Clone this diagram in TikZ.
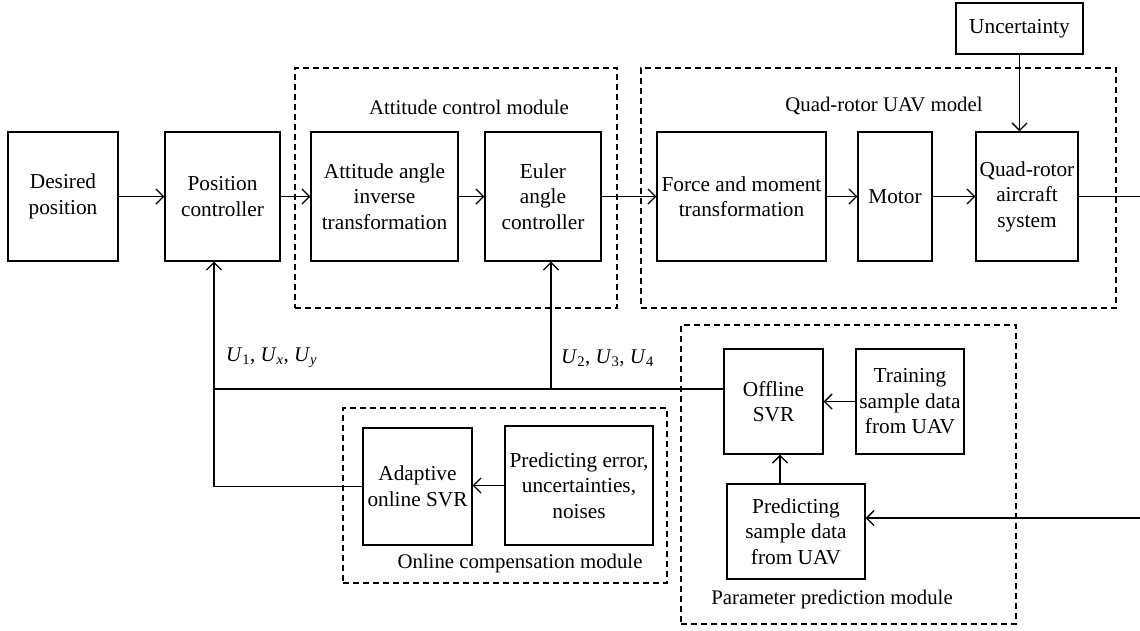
\documentclass[tikz,border=0pt]{standalone}
\usepackage{fontspec}
\setmainfont{Liberation Serif}
\usetikzlibrary{arrows.meta}
\tikzset{
  blk/.style={draw, line width=1.3pt, align=center, inner sep=0pt, font=\fontsize{21.3}{25.5}\selectfont},
  modbox/.style={draw, line width=1.2pt, dash pattern=on 6pt off 4pt, inner sep=0pt},
  modlabel/.style={inner sep=0pt, font=\fontsize{20.8}{25}\selectfont},
  arr/.style={line width=1.3pt, -{Straight Barb[length=7.5pt,width=15pt]}},
  ln/.style={line width=1.3pt}
}
\begin{document}
\begin{tikzpicture}[x=1pt,y=-1pt]
\useasboundingbox (0,0) rectangle (1140,631);
% module frames
\node[modbox, minimum width=322pt, minimum height=240pt] (attmod) at (456,188) {};
\node[modbox, minimum width=475pt, minimum height=240pt] (quadmod) at (878.5,188) {};
\node[modbox, minimum width=335pt, minimum height=299pt] (parmod) at (848.5,474.5) {};
\node[modbox, minimum width=324pt, minimum height=175pt] (onlmod) at (505,495.5) {};
\node[modlabel] (attlab) at (469,107) {Attitude control module};
\node[modlabel] (quadlab) at (884,106) {Quad-rotor UAV model};
\node[modlabel] (parlab) at (832,599) {Parameter prediction module};
\node[modlabel] (onllab) at (520,563) {Online compensation module};
% blocks
\node[blk, minimum width=110pt, minimum height=129pt] (desired) at (63,196.5) {Desired\\position};
\node[blk, minimum width=115pt, minimum height=129pt] (posctrl) at (222.5,196.5) {Position\\controller};
\node[blk, minimum width=147pt, minimum height=129pt] (att) at (384.5,196.5) {Attitude angle\\inverse\\transformation};
\node[blk, minimum width=116pt, minimum height=129pt] (euler) at (543,196.5) {Euler\\angle\\controller};
\node[blk, minimum width=169pt, minimum height=129pt] (force) at (741.5,196.5) {Force and moment\\transformation};
\node[blk, minimum width=74pt, minimum height=129pt] (motor) at (895,196.5) {Motor};
\node[blk, minimum width=102pt, minimum height=129pt] (quad) at (1027,196.5) {Quad-rotor\\aircraft\\system};
\node[blk, minimum width=127pt, minimum height=51pt] (unc) at (1019.5,28.5) {Uncertainty};
\node[blk, minimum width=99pt, minimum height=105pt] (offline) at (773.5,401.5) {Offline\\SVR};
\node[blk, minimum width=108pt, minimum height=105pt] (training) at (910,401.5) {Training\\sample data\\from UAV};
\node[blk, minimum width=138pt, minimum height=95pt] (predsample) at (796,531.5) {Predicting\\sample data\\from UAV};
\node[blk, minimum width=109pt, minimum height=117pt] (adaptive) at (417.5,486.5) {Adaptive\\online SVR};
\node[blk, minimum width=148pt, minimum height=119pt] (prederr) at (579,485.5) {Predicting error,\\uncertainties,\\noises};
% signal labels
\node[modlabel, anchor=west] (ulab1) at (226,358) {\textit{U}\textsubscript{1}, \textit{U}\textsubscript{\textit{x}}, \textit{U}\textsubscript{\textit{y}}};
\node[modlabel, anchor=west] (ulab2) at (561,358) {\textit{U}\textsubscript{2}, \textit{U}\textsubscript{3}, \textit{U}\textsubscript{4}};
% coordinates
\coordinate (j1) at (214,389);
\coordinate (j2) at (551,389);
\coordinate (j3) at (214,486.5);
\coordinate (pu) at (780,484);
\coordinate (rin) at (1140,518);
\coordinate (rout) at (1140,196.5);
% forward path
\draw[arr] (desired.east) -- (posctrl.west);
\draw[arr] (posctrl.east) -- (att.west);
\draw[arr] (att.east) -- (euler.west);
\draw[arr] (euler.east) -- (force.west);
\draw[arr] (force.east) -- (motor.west);
\draw[arr] (motor.east) -- (quad.west);
\draw[ln] (quad.east) -- (rout);
\draw[arr] (unc.south) -- (unc.south |- quad.north);
% feedback
\draw[ln] (offline.west |- j1) -- (j1);
\draw[arr] (j1) -- (j1 |- posctrl.south);
\draw[arr] (j2) -- (j2 |- euler.south);
\draw[ln] (j1) -- (j3) -- (adaptive.west);
\draw[arr] (prederr.west) -- (prederr.west -| adaptive.east);
\draw[arr] (training.west) -- (offline.east);
\draw[arr] (pu) -- (pu |- offline.south);
\draw[arr] (rin) -- (rin -| predsample.east);
\end{tikzpicture}
\end{document}
